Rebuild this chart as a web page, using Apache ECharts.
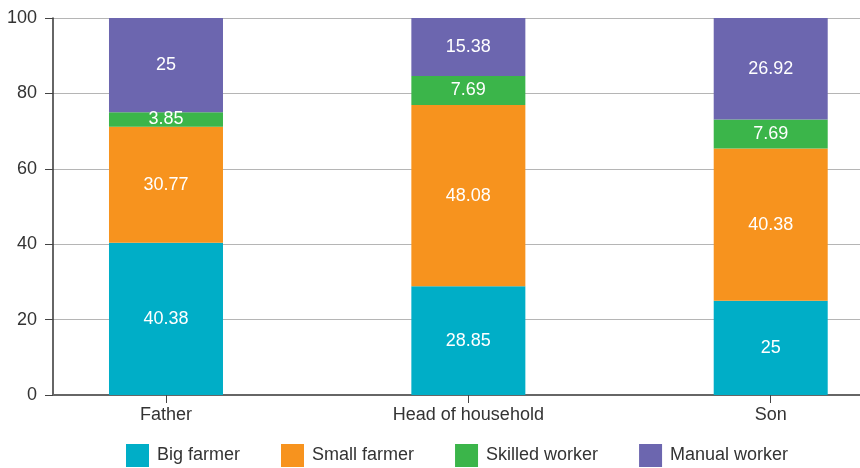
<!DOCTYPE html>
<html>
<head>
<meta charset="utf-8">
<script src="https://cdn.jsdelivr.net/npm/echarts@6/dist/echarts.min.js"></script>
<style>
  html, body { margin: 0; padding: 0; background: #fff; }
  #chart { width: 860px; height: 468px; }
</style>
</head>
<body>
<div id="chart"></div>
<script>
// Occupational distribution (%) by generation
const categories = ['Father', 'Head of household', 'Son'];
const seriesNames = ['Big farmer', 'Small farmer', 'Skilled worker', 'Manual worker'];
const bigFarmer = [40.38, 28.85, 25];
const smallFarmer = [30.77, 48.08, 40.38];
const skilledWorker = [3.85, 7.69, 7.69];
const manualWorker = [25, 15.38, 26.92];

const colors = ['#00AEC7', '#F7931E', '#3BB54A', '#6C66AF'];
const values = [bigFarmer, smallFarmer, skilledWorker, manualWorker];
const FONT = 'Liberation Sans, Arial, sans-serif';

const chart = echarts.init(document.getElementById('chart'), null, { renderer: 'canvas' });

chart.setOption({
  animation: false,
  textStyle: { fontFamily: FONT },
  grid: { left: 53, right: 0, top: 18, bottom: 73, containLabel: false },
  legend: {
    left: 126,
    top: 444,
    padding: 0,
    itemWidth: 23,
    itemHeight: 23,
    itemGap: 41,
    icon: 'rect',
    textStyle: { fontSize: 18, color: '#333', fontFamily: FONT, padding: [0, 0, 0, 3] },
    data: seriesNames
  },
  // category positions live on a numeric axis so the bars can sit
  // off-centre from the plot's left edge
  xAxis: {
    type: 'value',
    min: -0.3737,
    max: 2.2953,
    splitLine: { show: false },
    axisLine: { show: true, onZero: false, lineStyle: { color: '#666', width: 2 } },
    axisTick: { show: true, customValues: [0, 1, 2], length: 8, lineStyle: { color: '#444', width: 1 } },
    axisLabel: {
      customValues: [0, 1, 2],
      formatter: v => categories[Math.round(v)],
      fontSize: 18,
      color: '#333',
      margin: 11,
      fontFamily: FONT
    }
  },
  yAxis: {
    type: 'value',
    min: 0,
    max: 100,
    interval: 20,
    axisLine: { show: true, onZero: false, lineStyle: { color: '#333', width: 1.5 } },
    axisTick: { show: true, length: 8, lineStyle: { color: '#444' } },
    axisLabel: {
      fontSize: 18,
      color: '#333',
      margin: 16,
      fontFamily: FONT
    },
    splitLine: { show: true, lineStyle: { color: '#b5b5b5', width: 1 } }
  },
  series: seriesNames.map((name, i) => ({
    name,
    type: 'bar',
    stack: 'total',
    barWidth: 114,
    itemStyle: { color: colors[i] },
    label: {
      show: true,
      position: 'inside',
      color: '#fff',
      fontSize: 18,
      fontFamily: FONT,
      formatter: p => String(p.value[0])
    },
    // value first so that stacking applies to the vertical dimension
    encode: { x: 1, y: 0 },
    data: values[i].map((v, j) => [v, j])
  }))
});
</script>
</body>
</html>
